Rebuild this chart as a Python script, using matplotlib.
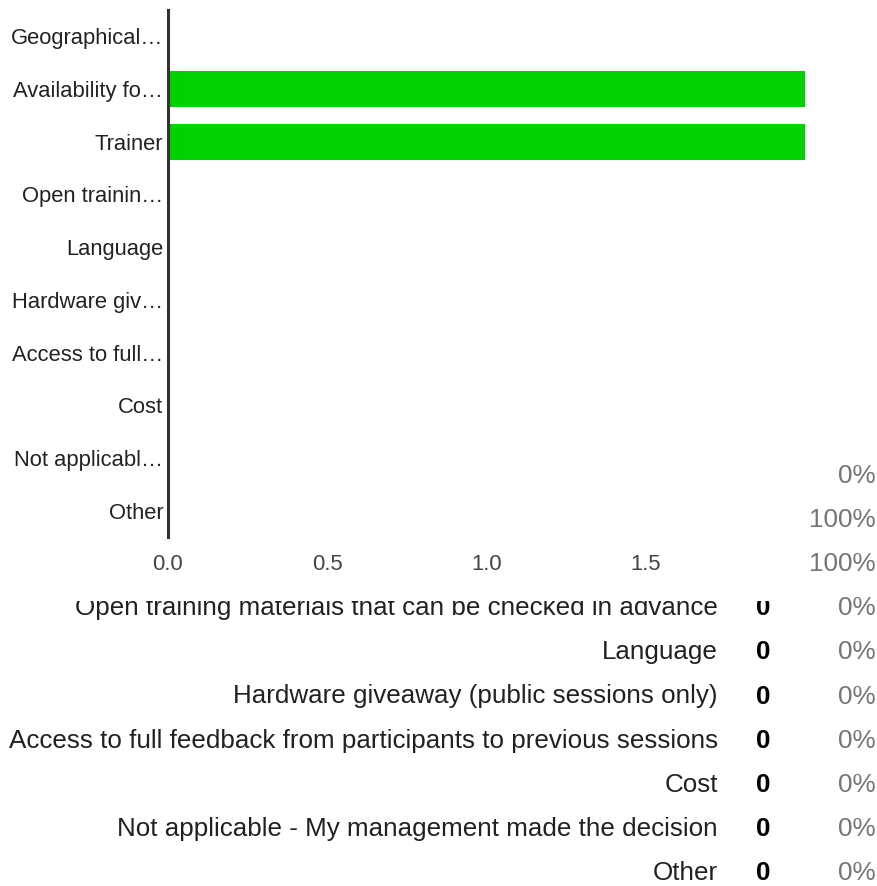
import matplotlib
matplotlib.use("Agg")
import matplotlib.pyplot as plt
from matplotlib.patches import Rectangle

plt.rcParams['font.family'] = ['Liberation Sans', 'DejaVu Sans']

categories = [
    "Geographical proximity",
    "Availability for the desired dates",
    "Trainer",
    "Open training materials that can be checked in advance",
    "Language",
    "Hardware giveaway (public sessions only)",
    "Access to full feedback from participants to previous sessions",
    "Cost",
    "Not applicable - My management made the decision",
    "Other",
]
tick_labels = [
    "Geographical…", "Availability fo…", "Trainer", "Open trainin…",
    "Language", "Hardware giv…", "Access to full…", "Cost",
    "Not applicabl…", "Other",
]
counts = [0, 2, 2, 0, 0, 0, 0, 0, 0, 0]
percents = ["0%", "100%", "100%", "0%", "0%", "0%", "0%", "0%", "0%", "0%"]
xticks = [0.0, 0.5, 1.0, 1.5]
first_visible_row = 3  # table rows above this are hidden behind the chart

W, H = 878, 886
fig = plt.figure(figsize=(W / 100, H / 100), dpi=100)

def fx(px):
    return px / W

def fy(py):
    return 1 - py / H

# Table behind the chart
row0, step = 476.0, 44.1
for i, (cat, c, p) in enumerate(zip(categories, counts, percents)):
    y = fy(row0 + i * step)
    if i >= first_visible_row:
        fig.text(fx(718), y, cat, ha='right', va='center', fontsize=18.75,
                 color='#212121', zorder=0.5)
        fig.text(fx(763), y, str(c), ha='center', va='center', fontsize=18.75,
                 fontweight='bold', color='#000000', zorder=0.5)
    fig.text(fx(876), y, p, ha='right', va='center', fontsize=18.8,
             color='#757575', zorder=0.5)

# White chart background covering part of the table
fig.add_artist(Rectangle((0, fy(601)), fx(801), 1 - fy(601),
                         transform=fig.transFigure, facecolor='white',
                         edgecolor='none', zorder=1))

# Chart
left, right, top, bottom = 168, 805, 10, 537
ax = fig.add_axes([fx(left), fy(bottom), fx(right - left), (bottom - top) / H])
ax.set_zorder(2)
ax.patch.set_alpha(0)
ypos = list(range(len(categories)))
ax.barh(ypos, counts, height=0.69, color='#00d100')
ax.set_xlim(0, 2)
ax.set_ylim(len(categories) - 0.5, -0.5)
ax.set_yticks(ypos)
ax.set_yticklabels(tick_labels, fontsize=15.8, color='#222222')
ax.set_xticks(xticks)
ax.set_xticklabels([f"{v:.1f}" for v in xticks], fontsize=15.9, color='#444444')
ax.tick_params(axis='both', length=0)
ax.tick_params(axis='y', pad=3.5)
ax.tick_params(axis='x', pad=12)
for s in ['top', 'right', 'bottom']:
    ax.spines[s].set_visible(False)
ax.spines['left'].set_color('#333333')
ax.spines['left'].set_linewidth(2.2)

fig.savefig("out.png", dpi=100)
